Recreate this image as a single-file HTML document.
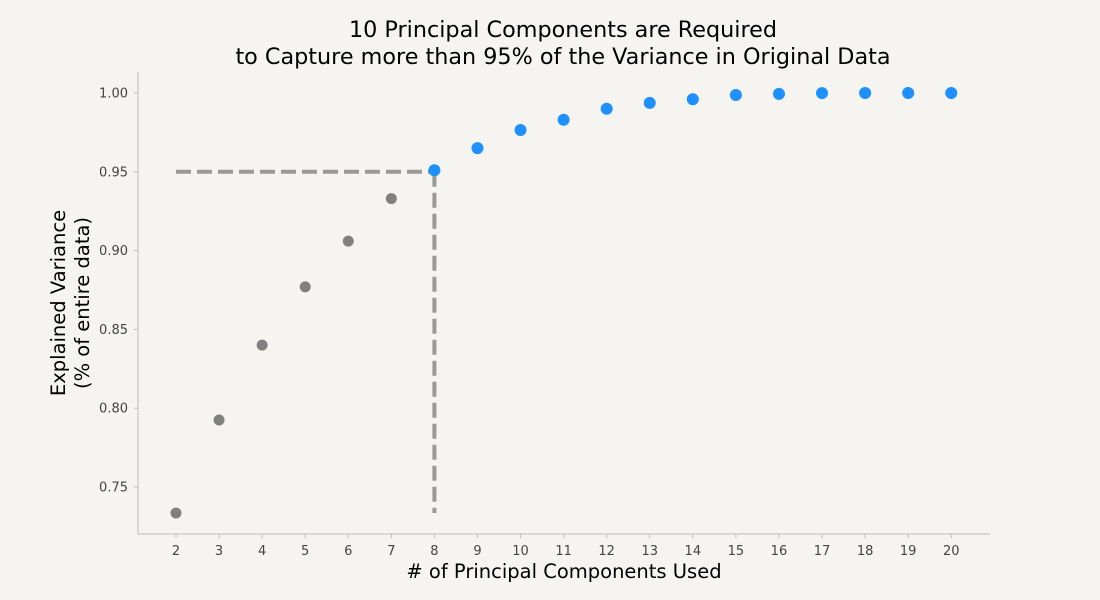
<!DOCTYPE html>
<html><head><meta charset="utf-8">
<style>
body{margin:0;background:#f5f4f1;}
svg{display:block;font-family:"DejaVu Sans","Liberation Sans",sans-serif;}
</style></head>
<body>
<svg id="chart" width="1100" height="600">
<rect width="1100" height="600" fill="#f5f4f1"/>
<text x="563" y="37" text-anchor="middle" font-size="22.3" fill="#000">10 Principal Components are Required</text>
<text x="563" y="64" text-anchor="middle" font-size="22.3" fill="#000">to Capture more than 95% of the Variance in Original Data</text>
<text x="564" y="578" text-anchor="middle" font-size="19.5" fill="#000"># of Principal Components Used</text>
<g transform="translate(65,303) rotate(-90)">
<text x="0" y="0" text-anchor="middle" font-size="19.5" fill="#000">Explained Variance</text>
<text x="0" y="24" text-anchor="middle" font-size="19.5" fill="#000">(% of entire data)</text>
</g>
<g id="axes"></g>
<g id="marks"></g>
</svg>
<script>
const components = [2,3,4,5,6,7,8,9,10,11,12,13,14,15,16,17,18,19,20];
const variance = [0.7335,0.7925,0.840,0.877,0.906,0.933,0.951,0.965,0.9765,0.983,0.990,0.9937,0.996,0.9987,0.9994,0.9999,1.0,1.0,1.0];
const yTicks = [0.75,0.80,0.85,0.90,0.95,1.00];
const threshold = 0.95;
const cutoff = 8;

const NS="http://www.w3.org/2000/svg";
const X0=138,X1=990,Y0=534,Y1=72;
const xMin=1.118,xMax=20.9,yMin=0.7202,yMax=1.0133;
const xs=v=>X0+(v-xMin)/(xMax-xMin)*(X1-X0);
const ys=v=>Y0-(v-yMin)/(yMax-yMin)*(Y0-Y1);
function mk(tag,attrs,parent){const e=document.createElementNS(NS,tag);for(const k in attrs)e.setAttribute(k,attrs[k]);parent.appendChild(e);return e;}
const axes=document.getElementById('axes'),marks=document.getElementById('marks');

let e=mk('line',{x1:X0,y1:Y1,x2:X0,y2:Y0,stroke:'#bbb','stroke-width':1},axes);


e=mk('line',{x1:X0,y1:Y0,x2:X1,y2:Y0,stroke:'#bbb','stroke-width':1},axes);



yTicks.forEach(t=>{
  const y=ys(t);
  mk('line',{x1:X0-4,y1:y,x2:X0,y2:y,stroke:'#bbb'},axes);
  const tx=mk('text',{x:X0-10,y:y+4.5,'text-anchor':'end','font-size':13,fill:'#444'},axes);
  tx.textContent=t.toFixed(2);
  
  
});
components.forEach(c=>{
  const x=xs(c);
  mk('line',{x1:x,y1:Y0,x2:x,y2:Y0+4,stroke:'#bbb'},axes);
  const tx=mk('text',{x:x,y:Y0+21,'text-anchor':'middle','font-size':13,fill:'#444'},axes);
  tx.textContent=c;
  
  
});

e=mk('line',{x1:xs(components[0]),y1:ys(threshold),x2:xs(cutoff),y2:ys(threshold),stroke:'#999','stroke-width':4,'stroke-dasharray':'15,6'},marks);


e=mk('line',{x1:xs(cutoff),y1:ys(threshold),x2:xs(cutoff),y2:ys(variance[0]),stroke:'#999','stroke-width':4,'stroke-dasharray':'15,6'},marks);



components.forEach((c,i)=>{
  const blue=c>=cutoff;
  const p=mk('circle',{cx:xs(c),cy:ys(variance[i]),r:blue?6:5.5,fill:blue?'#1e90ff':'#808080'},marks);
  
  
});
</script>
</body></html>
